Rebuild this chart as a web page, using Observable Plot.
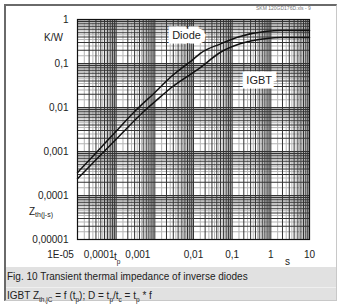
<!DOCTYPE html>
<html>
<head>
<meta charset="utf-8">
<script src="https://cdn.jsdelivr.net/npm/d3@7"></script>
<script src="https://cdn.jsdelivr.net/npm/@observablehq/plot@0.6"></script>
<style>
  html, body { margin: 0; padding: 0; background: #fff; }
  body { width: 342px; height: 305px; position: relative; overflow: hidden; font-family: "Liberation Sans", Arial, sans-serif; color: #222; }
  #chart { position: absolute; left: 0; top: 0; }
  .ov { position: absolute; white-space: nowrap; font-size: 10px; line-height: 1; }
  .ov sub { font-size: 6.5px; vertical-align: -3px; }
  #frame { position: absolute; left: 4px; top: 4px; width: 333px; height: 297px; border-top: 2px solid #6a6a6a; border-left: 2px solid #6a6a6a; border-right: 1px solid #c8c8c8; border-bottom: 1px solid #c8c8c8; box-sizing: border-box; }
  #caption { position: absolute; left: 6px; top: 267px; width: 331px; height: 33px; background: #e1e1e1; }
  #sep { position: absolute; left: 0; top: 20px; width: 331px; height: 1px; background: #efefef; }
</style>
</head>
<body>
<div id="chart"></div>
<div id="caption"><div id="sep"></div></div>
<div id="frame"></div>
<div class="ov" style="left:256px;top:6px;font-size:5px;color:#777;">SKM 120GD176D.xls - 9</div>
<div class="ov" style="left:44px;top:33px;">K/W</div>
<div class="ov" style="left:29px;top:207px;">Z<sub style="font-size:7px;vertical-align:-2px;">th(j-s)</sub></div>
<div class="ov" style="left:114px;top:252px;font-size:10px;">t<sub style="vertical-align:-4px;">p</sub></div>
<div class="ov" style="left:285px;top:257px;">s</div>
<div class="ov" style="left:7px;top:272px;font-size:10px;">Fig. 10 Transient thermal impedance of inverse diodes</div>
<div class="ov" style="left:7px;top:291px;font-size:10px;">IGBT Z<sub>th,jC</sub> = f (t<sub>p</sub>); D = t<sub>p</sub>/t<sub>c</sub> = t<sub>p</sub> * f</div>
<script>
// ---- data ----
const diodeT = [1e-5, 3e-5, 1e-4, 3e-4, 1e-3, 2.5e-3, 0.01, 0.015, 0.05, 0.16, 0.8, 1.8, 10];
const diodeZ = [3.3e-4, 9.3e-4, 2.9e-3, 8.1e-3, 0.022, 0.048, 0.126, 0.17, 0.28, 0.41, 0.54, 0.56, 0.56];
const igbtT  = [1e-5, 1e-4, 6.7e-4, 1e-3, 2.5e-3, 0.01, 0.015, 0.05, 0.16, 0.8, 1.8, 10];
const igbtZ  = [2.4e-4, 1.9e-3, 0.01, 0.0135, 0.027, 0.063, 0.081, 0.18, 0.28, 0.37, 0.39, 0.39];

const labelNames = ["Diode", "IGBT"];
const labelT = [0.0066, 0.5];
const labelZ = [0.43, 0.041];

const xTicksLeft = [1e-5, 1e-4, 1e-3];
const xTicksRight = [0.01, 0.1, 1, 10];
const xTicks = [...xTicksLeft, ...xTicksRight];
const xTickLabels = ["1E-05", "0,0001", "0,001", "0,01", "0,1", "1", "10"];
const yTicks = [1, 0.1, 0.01, 0.001, 0.0001, 0.00001];
const yTickLabels = ["1", "0,1", "0,01", "0,001", "0,0001", "0,00001"];

// ---- build tables ----
const diode = diodeT.map((t, i) => ({t, z: diodeZ[i]}));
const igbt = igbtT.map((t, i) => ({t, z: igbtZ[i]}));
const labels = labelNames.map((name, i) => ({name, t: labelT[i], z: labelZ[i]}));

function gridValues(lo, hi, steps) {
  const out = [];
  for (let e = lo; e < hi; e++) for (const m of steps) out.push(m * Math.pow(10, e));
  return out;
}
const darkSteps = [1, 2, 3, 4, 5, 6, 7, 8, 9];
const lightSteps = [1.5, 2.5, 3.5, 4.5, 5.5, 6.5, 7.5, 8.5, 9.5];
const gxDark = gridValues(-5, 1, darkSteps);
const gxLight = gridValues(-5, 1, lightSteps);
const gyDark = gridValues(-5, 0, darkSteps);
const gyLight = gridValues(-5, 0, lightSteps);

const near = (a, b) => Math.abs(Math.log10(a) - Math.log10(b)) < 1e-6;
const xFmt = d => xTickLabels[xTicks.findIndex(v => near(v, d))];
const yFmt = d => yTickLabels[yTicks.findIndex(v => near(v, d))];

const chart = Plot.plot({
  width: 342,
  height: 268,
  marginLeft: 77,
  marginRight: 33,
  marginTop: 19,
  marginBottom: 29,
  style: {fontFamily: "'Liberation Sans', Arial, sans-serif", fontSize: "10px", color: "#222", background: "transparent"},
  x: {type: "log", domain: [1e-5, 10]},
  y: {type: "log", domain: [1e-5, 1]},
  marks: [
    Plot.ruleX(gxLight, {stroke: "#b4b4b4", strokeWidth: 1}),
    Plot.ruleY(gyLight, {stroke: "#b4b4b4", strokeWidth: 1}),
    Plot.ruleX(gxDark, {stroke: "#333", strokeWidth: 1}),
    Plot.ruleY(gyDark, {stroke: "#333", strokeWidth: 1}),
    Plot.frame({stroke: "#111", strokeWidth: 1.2}),
    Plot.line(diode, {x: "t", y: "z", curve: "monotone-x", stroke: "#111", strokeWidth: 1.5}),
    Plot.line(igbt, {x: "t", y: "z", curve: "monotone-x", stroke: "#111", strokeWidth: 1.5}),
    Plot.text(labels, {x: "t", y: "z", text: "name", fontSize: 11, fill: "#222", stroke: "white", strokeWidth: 9, strokeLinejoin: "miter"}),
    Plot.axisX({ticks: xTicksLeft, tickFormat: xFmt, tickSize: 0, tickPadding: 11, dx: -17, label: null}),
    Plot.axisX({ticks: xTicksRight, tickFormat: xFmt, tickSize: 0, tickPadding: 11, label: null}),
    Plot.axisY({ticks: yTicks, tickFormat: yFmt, tickSize: 0, tickPadding: 9, label: null})
  ]
});
document.getElementById("chart").appendChild(chart);
</script>
</body>
</html>
